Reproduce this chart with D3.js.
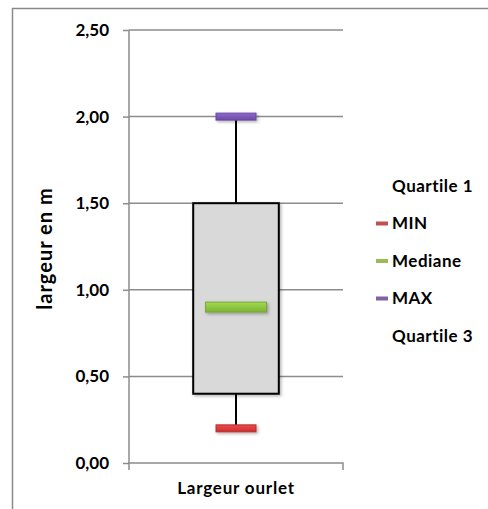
<!DOCTYPE html>
<html>
<head>
<meta charset="utf-8">
<script src="https://cdn.jsdelivr.net/npm/d3@7"></script>
<style>
  body { margin: 0; background: #fff; }
  text { font-family: Lato, "Open Sans", sans-serif; font-weight: bold; fill: #000; }
</style>
</head>
<body>
<svg id="chart" width="488" height="509"></svg>
<script>
// Box-plot statistics for the single category
const categories = ["Largeur ourlet"];
const minValues = [0.20];
const q1Values = [0.40];
const medianValues = [0.90];
const q3Values = [1.50];
const maxValues = [2.00];
const yTicks = [0, 0.5, 1.0, 1.5, 2.0, 2.5];
const legendItems = [
  { name: "Quartile 1", color: null },
  { name: "MIN", color: "#c0504d" },
  { name: "Mediane", color: "#9bbb59" },
  { name: "MAX", color: "#8064a2" },
  { name: "Quartile 3", color: null }
];

const FONT = "Lato, 'Open Sans', sans-serif";
const svg = d3.select("#chart");

// outer chart frame
svg.append("rect").attr("x", 12.5).attr("y", 8.5).attr("width", 600).attr("height", 600)
  .attr("fill", "none").attr("stroke", "#8a8a8a").attr("stroke-width", 1.5);

const plot = { left: 129, right: 343, top: 30, bottom: 463 };

const y = d3.scaleLinear().domain([0, 2.5]).range([plot.bottom, plot.top]);
const x = d3.scaleBand().domain(categories).range([plot.left, plot.right]).paddingInner(0).paddingOuter(0);

const fmt = v => d3.format(".2f")(v).replace(".", ",");

// horizontal gridlines
svg.append("g").selectAll("line").data(yTicks.filter(t => t > 0)).join("line")
  .attr("x1", plot.left).attr("x2", plot.right)
  .attr("y1", d => y(d)).attr("y2", d => y(d))
  .attr("stroke", "#8c8c8c").attr("stroke-width", 1.5);

// y axis
const yAxis = svg.append("g").attr("transform", `translate(${plot.left},0)`)
  .call(d3.axisLeft(y).tickValues(yTicks).tickFormat(fmt).tickSize(6).tickPadding(14));
yAxis.select(".domain").attr("stroke", "#8c8c8c").attr("stroke-width", 1.5).attr("d", `M0,${plot.top}V${plot.bottom}`);
yAxis.selectAll(".tick line").attr("stroke", "#8c8c8c").attr("stroke-width", 1.5);
yAxis.selectAll(".tick text").style("font-size", "17px").style("font-family", FONT).style("font-weight", "bold").attr("fill", "#000");

// x axis
const xAxis = svg.append("g").attr("transform", `translate(0,${plot.bottom})`)
  .call(d3.axisBottom(x).tickSize(0).tickPadding(19));
xAxis.select(".domain").attr("stroke", "#8c8c8c").attr("stroke-width", 1.5)
  .attr("d", `M${plot.left},7V0H${plot.right}V7`);
xAxis.selectAll(".tick text").style("font-size", "17px").style("letter-spacing", "0.8px")
  .style("font-family", FONT).style("font-weight", "bold").attr("fill", "#000");

// y title
svg.append("text").attr("transform", `translate(52,${(plot.top + plot.bottom) / 2 + 2}) rotate(-90)`)
  .attr("text-anchor", "middle").style("font-size", "20px").style("letter-spacing", "1px").text("largeur en m");

const defs = svg.append("defs");
const sh = defs.append("filter").attr("id", "shadow").attr("x", "-20%").attr("y", "-50%").attr("width", "140%").attr("height", "200%");
sh.append("feDropShadow").attr("dx", 1.5).attr("dy", 1.5).attr("stdDeviation", 1.5).attr("flood-color", "#000").attr("flood-opacity", 0.3);

// glossy fills for the min / median / max markers
function gloss(id, light, base) {
  const gr = defs.append("linearGradient").attr("id", id).attr("x1", 0).attr("y1", 0).attr("x2", 0).attr("y2", 1);
  gr.append("stop").attr("offset", "0%").attr("stop-color", light);
  gr.append("stop").attr("offset", "100%").attr("stop-color", base);
  return `url(#${id})`;
}
const fillMax = gloss("gMax", "#8f68cc", "#6d49a8");
const fillMin = gloss("gMin", "#ee4a4a", "#cc2e2e");
const fillMed = gloss("gMed", "#9fdb4c", "#7cb236");

const boxW = x.bandwidth() * 0.40;
const g = svg.append("g");
categories.forEach((c, i) => {
  const cx = x(c) + x.bandwidth() / 2;
  // whiskers
  g.append("line").attr("x1", cx).attr("x2", cx).attr("y1", y(q3Values[i])).attr("y2", y(maxValues[i]))
    .attr("stroke", "#000").attr("stroke-width", 2);
  g.append("line").attr("x1", cx).attr("x2", cx).attr("y1", y(q1Values[i])).attr("y2", y(minValues[i]))
    .attr("stroke", "#000").attr("stroke-width", 2);
  // interquartile box
  g.append("rect").attr("x", cx - boxW / 2).attr("y", y(q3Values[i]))
    .attr("width", boxW).attr("height", y(q1Values[i]) - y(q3Values[i]))
    .attr("fill", "#d9d9d9").attr("stroke", "#000").attr("stroke-width", 2).attr("filter", "url(#shadow)");
  // min / max / median markers
  const mark = (v, w, h, fill, edge) => g.append("rect")
    .attr("x", cx - w / 2).attr("y", y(v) - h / 2).attr("width", w).attr("height", h)
    .attr("fill", fill).attr("stroke", edge).attr("stroke-width", 1)
    .attr("filter", "url(#shadow)");
  mark(maxValues[i], 40, 7, fillMax, "#6a4aa0");
  mark(minValues[i], 40, 7, fillMin, "#b83030");
  mark(medianValues[i], 61, 10, fillMed, "#7aa83a");
});

// legend
const lg = svg.append("g").attr("transform", "translate(376,186)");
legendItems.forEach((d, i) => {
  const ly = i * 37.5;
  if (d.color) {
    lg.append("rect").attr("x", 0).attr("y", ly - 2).attr("width", 12).attr("height", 4).attr("fill", d.color);
  }
  lg.append("text").attr("x", 16).attr("y", ly).attr("dy", "0.35em")
    .style("font-size", "17px").style("letter-spacing", "0.5px").text(d.name);
});
</script>
</body>
</html>
